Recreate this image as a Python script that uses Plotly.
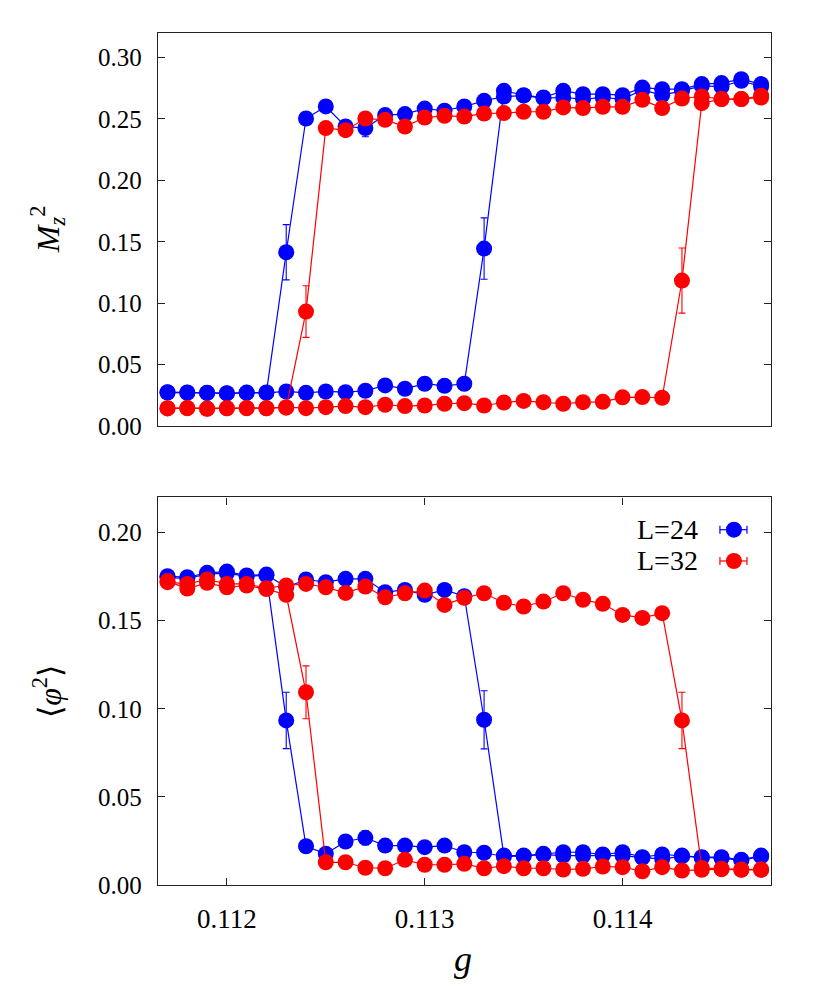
import plotly.graph_objects as go

# ---------------- data ----------------
g = [0.1117, 0.1118, 0.1119, 0.1120, 0.1121, 0.1122, 0.1123, 0.1124, 0.1125, 0.1126,
     0.1127, 0.1128, 0.1129, 0.1130, 0.1131, 0.1132, 0.1133, 0.1134, 0.1135, 0.1136,
     0.1137, 0.1138, 0.1139, 0.1140, 0.1141, 0.1142, 0.1143, 0.1144, 0.1145, 0.1146, 0.1147]

# M_z^2, L=24, increasing g sweep
mz_L24_up = [0.0276, 0.0271, 0.0271, 0.0268, 0.0271, 0.0271, 0.0282, 0.0271, 0.0282, 0.0276,
             0.0288, 0.0331, 0.0304, 0.0345, 0.0328, 0.0345, 0.1445, 0.2729, 0.2694, 0.2675,
             0.2729, 0.2702, 0.2702, 0.2694, 0.2756, 0.2743, 0.2743, 0.2784, 0.2792, 0.2824, 0.2784]
mz_L24_up_err = [0.002] * 16 + [0.025] + [0.002] * 14
# M_z^2, L=24, decreasing g sweep
mz_L24_dn = [0.0273, 0.0274, 0.0270, 0.0266, 0.0273, 0.0274, 0.1415, 0.2504, 0.2602, 0.2439,
             0.2426, 0.2532, 0.2540, 0.2585, 0.2567, 0.2602, 0.2648, 0.2683, 0.2690, 0.2670,
             0.2675, 0.2661, 0.2675, 0.2661, 0.2737, 0.2694, 0.2729, 0.2770, 0.2764, 0.2811, 0.2764]
mz_L24_dn_err = [0.002] * 6 + [0.0225] + [0.002] * 3 + [0.007] + [0.002] * 20
# M_z^2, L=32
mz_L32_up = [0.0146, 0.0146, 0.0141, 0.0146, 0.0146, 0.0146, 0.0154, 0.0146, 0.0154, 0.0163,
             0.0154, 0.0174, 0.0163, 0.0168, 0.0182, 0.0187, 0.0168, 0.0192, 0.0205, 0.0195,
             0.0182, 0.0195, 0.0198, 0.0234, 0.0236, 0.0231, 0.1185, 0.2629, 0.2662, 0.2662, 0.2675]
mz_L32_up_err = [0.002] * 26 + [0.0265] + [0.002] * 4
mz_L32_dn = [0.0144, 0.0147, 0.0143, 0.0145, 0.0147, 0.0145, 0.0150, 0.0932, 0.2426, 0.2409,
             0.2504, 0.2493, 0.2439, 0.2512, 0.2526, 0.2520, 0.2545, 0.2548, 0.2559, 0.2559,
             0.2594, 0.2589, 0.2599, 0.2599, 0.2656, 0.2589, 0.2667, 0.2683, 0.2662, 0.2662, 0.2689]
mz_L32_dn_err = [0.002] * 7 + [0.021] + [0.002] * 23

# <phi^2>, L=24
ph_L24_up = [0.1753, 0.1747, 0.1772, 0.1779, 0.1757, 0.1762, 0.1690, 0.1734, 0.1719, 0.1738,
             0.1738, 0.1662, 0.1675, 0.1647, 0.1675, 0.1639, 0.0938, 0.0167, 0.0167, 0.0177,
             0.0186, 0.0186, 0.0173, 0.0186, 0.0158, 0.0173, 0.0167, 0.0158, 0.0158, 0.0143, 0.0167]
ph_L24_up_err = [0.002] * 16 + [0.0165] + [0.001] * 14
ph_L24_dn = [0.1745, 0.1740, 0.1765, 0.1770, 0.1752, 0.1758, 0.0934, 0.0220, 0.0177, 0.0247,
             0.0268, 0.0224, 0.0224, 0.0215, 0.0224, 0.0186, 0.0183, 0.0162, 0.0165, 0.0172,
             0.0167, 0.0167, 0.0170, 0.0167, 0.0155, 0.0148, 0.0162, 0.0155, 0.0152, 0.0140, 0.0162]
ph_L24_dn_err = [0.002] * 6 + [0.016] + [0.001] * 3 + [0.004] + [0.001] * 20
# <phi^2>, L=32
ph_L32_up = [0.1719, 0.1709, 0.1734, 0.1709, 0.1709, 0.1685, 0.1700, 0.1709, 0.1690, 0.1658,
             0.1694, 0.1633, 0.1656, 0.1671, 0.1590, 0.1630, 0.1656, 0.1602, 0.1581, 0.1609,
             0.1656, 0.1619, 0.1596, 0.1533, 0.1516, 0.1543, 0.0934, 0.0097, 0.0092, 0.0088, 0.0088]
ph_L32_up_err = [0.002] * 26 + [0.016] + [0.001] * 4
ph_L32_dn = [0.1725, 0.1683, 0.1715, 0.1690, 0.1700, 0.1680, 0.1647, 0.1094, 0.0129, 0.0129,
             0.0098, 0.0095, 0.0143, 0.0115, 0.0115, 0.0120, 0.0095, 0.0107, 0.0095, 0.0095,
             0.0088, 0.0092, 0.0105, 0.0101, 0.0078, 0.0101, 0.0082, 0.0086, 0.0090, 0.0086, 0.0086]
ph_L32_dn_err = [0.002] * 7 + [0.015] + [0.001] * 23

labels = ["L=24", "L=32"]
colors = ["#0000ff", "#ff0000"]

x_ticks = [0.112, 0.113, 0.114]
x_ticktext = ["0.112", "0.113", "0.114"]
top_yticks = [0.00, 0.05, 0.10, 0.15, 0.20, 0.25, 0.30]
bot_yticks = [0.00, 0.05, 0.10, 0.15, 0.20]

# ---------------- figure ----------------
fig = go.Figure()

FONT = "Liberation Serif"


def add_series(y, err, color, xa, ya):
    fig.add_trace(go.Scatter(
        x=g, y=y, xaxis=xa, yaxis=ya, mode="lines+markers",
        line=dict(color=color, width=1.2),
        marker=dict(color=color, size=16, line=dict(width=0)),
        error_y=dict(type="data", array=err, visible=True, color=color,
                     thickness=1.1, width=3.5),
        showlegend=False, hoverinfo="x+y"))


# blue first, red on top
add_series(mz_L24_up, mz_L24_up_err, colors[0], "x", "y")
add_series(mz_L24_dn, mz_L24_dn_err, colors[0], "x", "y")
add_series(mz_L32_up, mz_L32_up_err, colors[1], "x", "y")
add_series(mz_L32_dn, mz_L32_dn_err, colors[1], "x", "y")
add_series(ph_L24_up, ph_L24_up_err, colors[0], "x2", "y2")
add_series(ph_L24_dn, ph_L24_dn_err, colors[0], "x2", "y2")
add_series(ph_L32_up, ph_L32_up_err, colors[1], "x2", "y2")
add_series(ph_L32_dn, ph_L32_dn_err, colors[1], "x2", "y2")

xrange = [0.111652, 0.11475]


def ax(size=25, **kw):
    base = dict(showgrid=False, zeroline=False, linecolor="#222222", linewidth=1.4,
                tickcolor="#222222", tickwidth=1.2, showline=True,
                tickfont=dict(family=FONT, size=size, color="black"))
    base.update(kw)
    return base


fig.update_layout(
    width=830, height=988,
    margin=dict(l=150, r=67, t=25, b=111),
    paper_bgcolor="white", plot_bgcolor="white",
    showlegend=False,
    xaxis=ax(domain=[0, 1], anchor="y", range=xrange, showticklabels=False,
             ticks="", mirror=True),
    yaxis=ax(domain=[0.5386, 1], anchor="x", range=[0, 0.32], tickvals=top_yticks,
             tickformat=".2f", ticks="inside", ticklen=7, mirror="ticks",
             ticklabelstandoff=10),
    xaxis2=ax(size=27, domain=[0, 1], anchor="y2", range=xrange, tickvals=x_ticks,
              ticktext=x_ticktext, ticks="inside", ticklen=7, mirror="ticks",
              ticklabelstandoff=9),
    yaxis2=ax(domain=[0, 0.4549], anchor="x2", range=[0, 0.22], tickvals=bot_yticks,
              tickformat=".2f", ticks="inside", ticklen=7, mirror="ticks",
              ticklabelstandoff=10),
)

# axis titles
fig.add_annotation(text="<i>M</i><sub><i>z</i></sub><sup>2</sup>", xref="paper", yref="y domain",
                   x=-0.18, y=0.5, xanchor="center", yanchor="middle", textangle=-90,
                   showarrow=False, font=dict(family=FONT, size=32, color="black"))
fig.add_annotation(text="⟨<i>φ</i><sup>2</sup>⟩", xref="paper", yref="y2 domain",
                   x=-0.18, y=0.5, xanchor="center", yanchor="middle", textangle=-90,
                   showarrow=False, font=dict(family=FONT, size=32, color="black"))
fig.add_annotation(text="<i>g</i>", xref="x2 domain", yref="y2 domain",
                   x=0.497, y=-0.19, xanchor="center", yanchor="middle", showarrow=False,
                   font=dict(family=FONT, size=36, color="black"))

# legend (gnuplot style: text left, sample right)
leg_y = [0.9167, 0.836]
for lab, col, yy in zip(labels, colors, leg_y):
    fig.add_annotation(text=lab, xref="x2 domain", yref="y2 domain", x=0.884, y=yy,
                       xanchor="right", yanchor="middle", showarrow=False,
                       font=dict(family=FONT, size=28, color="black"))
    fig.add_shape(type="line", xref="x2 domain", yref="y2 domain", x0=0.9167, x1=0.9608,
                  y0=yy, y1=yy, line=dict(color=col, width=1.2))
    for xc in (0.9167, 0.9608):
        fig.add_shape(type="line", xref="x2 domain", yref="y2 domain", xsizemode="scaled",
                      ysizemode="pixel", yanchor=yy, x0=xc, x1=xc, y0=-4, y1=4,
                      line=dict(color=col, width=1.2))
    fig.add_shape(type="circle", xref="x2 domain", yref="y2 domain", xsizemode="pixel",
                  ysizemode="pixel", xanchor=0.9395, yanchor=yy, x0=-8, x1=8, y0=-8, y1=8,
                  fillcolor=col, line=dict(color=col, width=0))

fig.write_html("out.html")
